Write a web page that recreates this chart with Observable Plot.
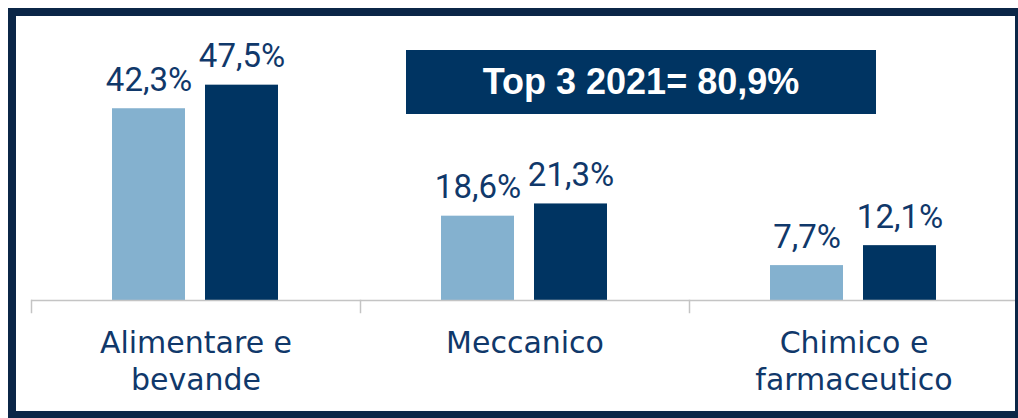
<!DOCTYPE html>
<html><head><meta charset="utf-8">
<script src="https://cdn.jsdelivr.net/npm/d3@7"></script>
<script src="https://cdn.jsdelivr.net/npm/@observablehq/plot@0.6"></script>
<style>
html,body{margin:0;padding:0;background:#fff;}
#wrap{position:relative;width:1018px;height:418px;overflow:hidden;}
#border{position:absolute;left:8px;top:8px;width:1015px;height:411px;box-sizing:border-box;border:8px solid #0B2647;pointer-events:none;}
#badge{position:absolute;left:406px;top:50px;width:470px;height:64px;background:#003462;color:#fff;font:bold 36px "Liberation Sans";display:flex;align-items:center;justify-content:center;}
svg{display:block;}
</style></head><body>
<div id="wrap"><div id="chart"></div><div id="badge"></div><div id="border"></div></div>
<script>
const categories = ["Alimentare e bevande", "Meccanico", "Chimico e farmaceutico"];
const categoryLabels = ["Alimentare e\nbevande", "Meccanico", "Chimico e\nfarmaceutico"];
const series = ["2020", "2021"];
const values2020 = [42.3, 18.6, 7.7];
const values2021 = [47.5, 21.3, 12.1];
const badgeText = "Top 3 2021= 80,9%";

const data = categories.flatMap((c, i) => [
  {category: c, series: series[0], value: values2020[i]},
  {category: c, series: series[1], value: values2021[i]}
]);
const fmt = v => v.toFixed(1).replace(".", ",") + "%";
const textColor = "#10386A";
const W = 1018, H = 418, mT = 28, mB = 118;

const chart = Plot.plot({
  width: W, height: H,
  marginLeft: 31, marginRight: 0, marginTop: mT, marginBottom: mB,
  style: {fontFamily: "DejaVu Sans", background: "transparent"},
  fx: {domain: categories, paddingInner: 0, paddingOuter: 0, label: null},
  x: {domain: series, paddingInner: 0.214, paddingOuter: 0.866, axis: null},
  y: {domain: [0, 60], axis: null},
  color: {domain: series, range: ["#84B1CF", "#003462"]},
  marks: [
    Plot.barY(data, {fx: "category", x: "series", y: "value", fill: "series"}),
    Plot.text(data, {fx: "category", x: "series", y: "value", text: d => fmt(d.value),
      lineAnchor: "bottom", dy: -18, fill: textColor, fontSize: 33, fontFamily: "Roboto"}),
    Plot.ruleY([0], {stroke: "#C4C4C4", strokeWidth: 1.5}),
    Plot.frame({anchor: "left", insetTop: H - mT - mB, insetBottom: -12, stroke: "#C4C4C4", strokeWidth: 1.5}),
    Plot.axisFx({anchor: "bottom", tickSize: 0, tickPadding: 26, label: null,
      tickFormat: c => categoryLabels[categories.indexOf(c)],
      fontSize: 30, lineHeight: 1.24, fill: textColor})
  ]
});
document.getElementById("chart").appendChild(chart);
document.getElementById("badge").textContent = badgeText;
</script>
</body></html>
